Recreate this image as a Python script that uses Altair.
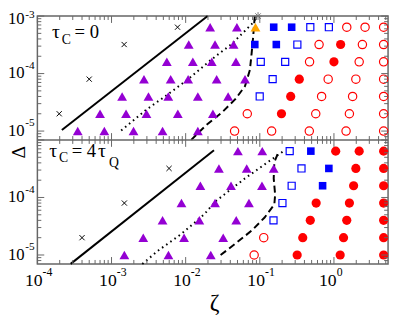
import altair as alt
import pandas as pd

# ---------------- values (zeta, Delta) ----------------
# panel (a): tau_C = 0
A_CROSS = [(1.97e-4, 2e-5), (5.0e-4, 8e-5), (1.48e-3, 3.2e-4), (7.77e-3, 6.4e-4)]
A_TRI = [
    (3.5e-4, 1e-5), (8.0e-4, 1e-5), (1.98e-3, 1e-5), (4.88e-3, 1e-5), (1.46e-2, 1e-5),
    (7.0e-4, 2e-5), (1.57e-3, 2e-5), (2.96e-3, 2e-5), (7.84e-3, 2e-5), (2.33e-2, 2e-5),
    (1.39e-3, 4e-5), (3.15e-3, 4e-5), (5.83e-3, 4e-5), (1.46e-2, 4e-5), (3.74e-2, 4e-5),
    (2.74e-3, 8e-5), (6.28e-3, 8e-5), (1.08e-2, 8e-5), (2.62e-2, 8e-5), (6.32e-2, 8e-5),
    (5.57e-3, 1.6e-4), (1.25e-2, 1.6e-4), (2.25e-2, 1.6e-4), (4.77e-2, 1.6e-4),
    (1.10e-2, 3.2e-4), (2.49e-2, 3.2e-4), (4.43e-2, 3.2e-4),
    (2.14e-2, 6.4e-4), (4.91e-2, 6.4e-4),
]
A_ORANGE = [(8.75e-2, 6.4e-4)]
A_SQ_FILLED = [(1.54e-1, 6.4e-4), (2.69e-1, 6.4e-4), (8.56e-2, 3.2e-4), (1.67e-1, 3.2e-4)]
A_SQ_OPEN = [(4.80e-1, 6.4e-4), (8.54e-1, 6.4e-4), (3.21e-1, 3.2e-4), (1.03e-1, 1.6e-4),
             (2.20e-1, 1.6e-4), (1.49e-1, 8e-5), (9.97e-2, 4e-5)]
A_CIRC_FILLED = [(1.23, 3.2e-4), (1.00, 1.6e-4), (3.41e-1, 8e-5), (2.61e-1, 4e-5), (1.96e-1, 2e-5)]
A_CIRC_OPEN = [
    (1.49, 6.4e-4), (2.63, 6.4e-4), (4.68, 6.4e-4),
    (0.630, 3.2e-4), (2.42, 3.2e-4), (4.68, 3.2e-4),
    (0.469, 1.6e-4), (2.19, 1.6e-4), (4.68, 1.6e-4),
    (0.836, 8e-5), (1.975, 8e-5), (4.68, 8e-5),
    (0.682, 4e-5), (1.786, 4e-5), (4.68, 4e-5),
    (0.0678, 2e-5), (0.5685, 2e-5), (1.616, 2e-5), (4.68, 2e-5),
    (0.0457, 1e-5), (0.1444, 1e-5), (0.4651, 1e-5), (1.457, 1e-5), (4.68, 1e-5),
]
A_STAR = [(9.47e-2, 1.0e-3)]
A_SOLID = [(2.14e-4, 1.04e-5), (1.98e-2, 1.0e-3)]
A_DOTTED = [(1.35e-3, 1.02e-5), (2.88e-3, 2.30e-5), (5.86e-3, 4.43e-5), (1.08e-2, 7.97e-5),
            (2.18e-2, 1.72e-4), (4.22e-2, 3.30e-4), (6.32e-2, 5.56e-4), (7.75e-2, 7.22e-4),
            (9.02e-2, 9.4e-4), (9.47e-2, 1.0e-3)]
A_DASHED = [(1.19e-2, 7.03e-6), (1.88e-2, 1.26e-5), (3.11e-2, 2.13e-5), (4.67e-2, 3.58e-5),
            (6.32e-2, 6.06e-5), (7.36e-2, 1.16e-4), (7.75e-2, 2.23e-4), (8.13e-2, 4.29e-4),
            (8.56e-2, 1.0e-3)]

# panel (b): tau_C = 4 tau_Q
B_CROSS = [(4.0e-4, 2e-5), (1.49e-3, 8e-5), (5.97e-3, 3.2e-4)]
B_TRI = [
    (1.49e-3, 1e-5), (5.86e-3, 1e-5), (2.18e-2, 1e-5),
    (2.68e-3, 2e-5), (9.52e-3, 2e-5), (3.21e-2, 2e-5),
    (4.88e-3, 4e-5), (1.53e-2, 4e-5), (4.81e-2, 4e-5),
    (8.78e-3, 8e-5), (2.49e-2, 8e-5), (7.14e-2, 8e-5),
    (1.58e-2, 1.6e-4), (4.09e-2, 1.6e-4), (1.07e-1, 1.6e-4),
    (2.81e-2, 3.2e-4), (6.66e-2, 3.2e-4), (1.54e-1, 3.2e-4),
    (5.07e-2, 6.4e-4), (1.08e-1, 6.4e-4),
]
B_SQ_OPEN = [(2.53e-1, 6.4e-4), (3.65e-1, 3.2e-4), (2.69e-1, 1.6e-4), (2.02e-1, 8e-5), (1.53e-1, 4e-5)]
B_SQ_FILLED = [(4.88e-1, 6.4e-4), (8.54e-1, 3.2e-4), (7.03e-1, 1.6e-4)]
B_CIRC_OPEN = [(1.13e-1, 2e-5), (8.39e-2, 1e-5)]
B_CIRC_FILLED = [
    (1.056, 6.4e-4), (2.19, 6.4e-4), (4.68, 6.4e-4),
    (1.975, 3.2e-4), (4.68, 3.2e-4),
    (1.842, 1.6e-4), (4.68, 1.6e-4),
    (0.5754, 8e-5), (1.616, 8e-5), (4.68, 8e-5),
    (0.4795, 4e-5), (1.489, 4e-5), (4.68, 4e-5),
    (0.3795, 2e-5), (1.347, 2e-5), (4.68, 2e-5),
    (0.3192, 1e-5), (1.214, 1e-5), (4.68, 1e-5),
]
B_SOLID = [(2.81e-4, 7.0e-6), (2.41e-2, 6.6e-4)]
B_DOTTED = [(2.60e-3, 7.0e-6), (4.33e-3, 1.21e-5), (8.78e-3, 2.33e-5), (1.78e-2, 5.1e-5),
            (2.54e-2, 8.6e-5), (6.32e-2, 2.15e-4), (1.28e-1, 4.11e-4), (2.13e-1, 6.5e-4)]
B_DASHED = [(2.96e-2, 9.96e-6), (4.67e-2, 1.57e-5), (7.75e-2, 2.65e-5), (1.16e-1, 4.48e-5),
            (1.57e-1, 7.55e-5), (1.61e-1, 1.12e-4), (1.54e-1, 2.15e-4), (1.57e-1, 4.11e-4),
            (1.74e-1, 5.7e-4)]

# axis ticks and labels
X_MAJOR = [1e-4, 1e-3, 1e-2, 1e-1, 1.0]
X_MINOR = [m * d for d in [1e-4, 1e-3, 1e-2, 1e-1] for m in range(2, 10)] + [2.0, 3.0, 4.0, 5.0]
Y_MAJOR = [1e-5, 1e-4, 1e-3]
Y_MINOR = [8e-6, 9e-6] + [m * d for d in [1e-5, 1e-4] for m in range(2, 10)]
X_LAB_VAL = [1e-4, 1e-3, 1e-2, 1e-1]
X_LAB_EXP = ["-4", "-3", "-2", "-1"]
X_LAB0_VAL = [1.0]
X_LAB0_EXP = ["0"]
Y_LAB_VAL = [1e-5, 1e-4]
Y_LAB_EXP = ["-5", "-4"]
Y_TOPLAB_VAL = [1e-3]
Y_TOPLAB_EXP = ["-3"]
X_TITLE = ["ζ"]
Y_TITLE = ["Δ"]

# ---------------- layout / style ----------------
W, HP = 358, 126.5
FONT = "Liberation Serif"
FRAME = "#666666"
PURPLE, BLUE, RED, ORANGE = "#9400D3", "#0000FF", "#FF0000", "#FFA500"
CROSS = "M-1,-1L1,1M-1,1L1,-1"
STAR = "M-1,0L1,0M0,-1L0,1M-0.7,-0.7L0.7,0.7M-0.7,0.7L0.7,-0.7"

XS = alt.Scale(type="log", domain=[1e-4, 5.37], nice=False)
Y_TOP = alt.Scale(type="log", domain=[7e-6, 1e-3], nice=False, range=[HP, 0])
Y_BOT = alt.Scale(type="log", domain=[7e-6, 1e-3], nice=False, range=[2 * HP, HP])


def table(pairs):
    df = pd.DataFrame(pairs, columns=["zeta", "delta"])
    df["i"] = range(len(df))
    return df


def points(pairs, ys, **mk):
    return alt.Chart(table(pairs)).mark_point(opacity=1, **mk).encode(
        x=alt.X("zeta:Q", scale=XS, axis=None),
        y=alt.Y("delta:Q", scale=ys, axis=None),
    )


def curve(pairs, ys, dash=None):
    kw = dict(color="black", strokeWidth=2)
    if dash:
        kw["strokeDash"] = dash
    return alt.Chart(table(pairs)).mark_line(**kw).encode(
        x=alt.X("zeta:Q", scale=XS, axis=None),
        y=alt.Y("delta:Q", scale=ys, axis=None),
        order="i:Q",
    )


def xticks(vals, y0, length):
    return alt.Chart(pd.DataFrame({"v": vals})).mark_rule(color=FRAME, strokeWidth=1).encode(
        x=alt.X("v:Q", scale=XS, axis=None), y=alt.value(y0), y2=alt.value(y0 + length))


def yticks(vals, ys, x0, length):
    return alt.Chart(pd.DataFrame({"v": vals})).mark_rule(color=FRAME, strokeWidth=1).encode(
        y=alt.Y("v:Q", scale=ys, axis=None), x=alt.value(x0), x2=alt.value(x0 + length))


def panel(ys, cross, tri, sq_open, sq_filled, circ_open, circ_filled, solid, dotted, dashed):
    return [
        curve(solid, ys),
        curve(dotted, ys, [1.6, 3.6]),
        curve(dashed, ys, [7, 4]),
        points(cross, ys, shape=CROSS, filled=False, color="black", strokeWidth=1, size=28),
        points(tri, ys, shape="triangle-up", filled=True, color=PURPLE, size=100),
        points(sq_open, ys, shape="square", filled=False, color=BLUE, strokeWidth=1.2, size=52),
        points(sq_filled, ys, shape="square", filled=True, color=BLUE, size=60),
        points(circ_open, ys, shape="circle", filled=False, color=RED, strokeWidth=1.2, size=72),
        points(circ_filled, ys, shape="circle", filled=True, color=RED, size=88),
    ]


def ylabels(vals, exps, ys, dy10, dyexp):
    df = pd.DataFrame({"v": vals, "e": exps, "b": ["10"] * len(vals)})
    base = alt.Chart(df).encode(y=alt.Y("v:Q", scale=ys, axis=None))
    return [
        base.mark_text(align="right", baseline="middle", font=FONT, fontSize=17, dy=dy10)
        .encode(x=alt.value(-13), text="b:N"),
        base.mark_text(align="left", baseline="middle", font=FONT, fontSize=11.5, dy=dyexp)
        .encode(x=alt.value(-12.5), text="e:N"),
    ]


def xlabels(vals, exps, shift):
    df = pd.DataFrame({"v": vals, "e": exps, "b": ["10"] * len(vals)})
    base = alt.Chart(df).encode(x=alt.X("v:Q", scale=XS, axis=None), y=alt.value(2 * HP))
    return [
        base.mark_text(align="right", baseline="middle", font=FONT, fontSize=18, dx=shift, dy=18)
        .encode(text="b:N"),
        base.mark_text(align="left", baseline="middle", font=FONT, fontSize=12, dx=shift, dy=8)
        .encode(text="e:N"),
    ]


def note(txt, x, y, size, **kw):
    return alt.Chart(pd.DataFrame({"t": [txt]})).mark_text(
        font=FONT, fontSize=size, align="left", baseline="alphabetic", **kw
    ).encode(x=alt.value(x), y=alt.value(y), text="t:N")


layers = []
layers += panel(Y_TOP, A_CROSS, A_TRI, A_SQ_OPEN, A_SQ_FILLED, A_CIRC_OPEN, A_CIRC_FILLED,
                A_SOLID, A_DOTTED, A_DASHED)
layers.append(points(A_ORANGE, Y_TOP, shape="triangle-up", filled=True, color=ORANGE, size=100))
layers.append(points(A_STAR, Y_TOP, shape=STAR, filled=False, color="#777777", strokeWidth=1, size=64))
layers += panel(Y_BOT, B_CROSS, B_TRI, B_SQ_OPEN, B_SQ_FILLED, B_CIRC_OPEN, B_CIRC_FILLED,
                B_SOLID, B_DOTTED, B_DASHED)

# divider between panels
layers.append(alt.Chart(pd.DataFrame({"k": [0]})).mark_rule(color=FRAME, strokeWidth=1.5).encode(
    x=alt.value(0), x2=alt.value(W), y=alt.value(HP)))

# inward ticks on every side of both panels
for y0, sgn in [(0, 1), (HP, -1), (HP, 1), (2 * HP, -1)]:
    layers.append(xticks(X_MAJOR, y0, 7 * sgn))
    layers.append(xticks(X_MINOR, y0, 4 * sgn))
for ys in (Y_TOP, Y_BOT):
    layers.append(yticks(Y_MAJOR, ys, 0, 7))
    layers.append(yticks(Y_MINOR, ys, 0, 4))
    layers.append(yticks(Y_MAJOR, ys, W, -7))
    layers.append(yticks(Y_MINOR, ys, W, -4))

# tick labels
layers += ylabels(Y_LAB_VAL, Y_LAB_EXP, Y_TOP, 0, -8)
layers += ylabels(Y_TOPLAB_VAL, Y_TOPLAB_EXP, Y_TOP, 3, -1)
layers += ylabels(Y_LAB_VAL, Y_LAB_EXP, Y_BOT, 0, -8)
layers += xlabels(X_LAB_VAL, X_LAB_EXP, 5.3)
layers += xlabels(X_LAB0_VAL, X_LAB0_EXP, 2.8)

# axis titles
layers.append(alt.Chart(pd.DataFrame({"t": X_TITLE})).mark_text(
    font=FONT, fontSize=24, align="center", baseline="middle").encode(
    x=alt.value(181), y=alt.value(2 * HP + 40), text="t:N"))
layers.append(alt.Chart(pd.DataFrame({"t": Y_TITLE})).mark_text(
    font=FONT, fontSize=20, align="center", baseline="middle", angle=270).encode(
    x=alt.value(-19), y=alt.value(139), text="t:N"))

# panel annotations
layers += [
    note("τ", 15, 22, 20),
    note("C", 25, 29, 14),
    note("= 0", 38, 22, 19),
    note("τ", 12, 143.5, 20),
    note("C", 22, 149, 14),
    note("= 4", 35, 143.5, 19),
    note("τ", 62, 143.5, 20),
    note("Q", 73, 154, 14),
]

chart = alt.layer(*layers).resolve_scale(y="independent").properties(
    width=W,
    height=2 * HP,
    autosize=alt.AutoSizeParams(type="none"),
    padding={"left": 30, "top": 5, "right": 3, "bottom": 52},
).configure_view(stroke=FRAME, strokeWidth=1.5)

chart.save("out.html", embed_options={"renderer": "svg", "actions": False})
